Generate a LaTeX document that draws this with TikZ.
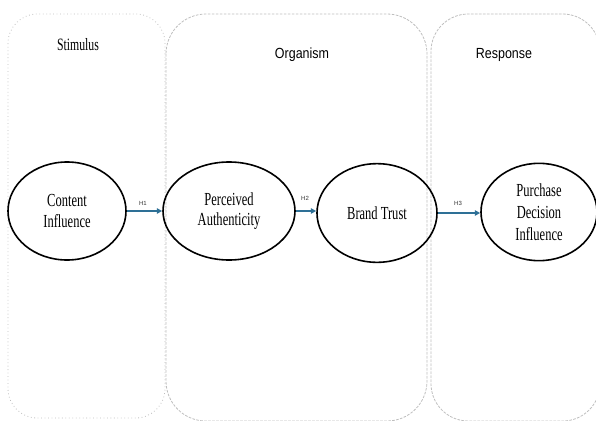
\documentclass[tikz,border=0pt]{standalone}
\usepackage{fontspec}
\usetikzlibrary{shapes.geometric,arrows.meta}
\newfontfamily\narrowserif[FakeStretch=0.68]{Liberation Serif}
\newfontfamily\narrowsans[FakeStretch=0.85]{Liberation Sans}
\newfontfamily\plainsans{Liberation Sans}
\definecolor{boxgray}{RGB}{190,190,190}
\definecolor{linkblue}{RGB}{46,112,150}

\tikzset{every picture/.style={line width=0.75pt}}
\tikzset{
	construct/.style={ellipse, draw=black, line width=1.2pt, inner sep=0pt, align=center,
		font=\narrowserif\fontsize{13.8}{15.5}\selectfont},
	stagebox/.style={draw=boxgray, line width=0.6pt},
	stagetitle/.style={font=\narrowsans\fontsize{11}{13}\selectfont},
	hlink/.style={draw=linkblue, line width=1.1pt, -{Triangle[length=4pt,width=4pt]}},
	hlabel/.style={font=\plainsans\fontsize{4.5}{5}\selectfont, text=black!80}}

\begin{document}
\begin{tikzpicture}[x=0.75pt,y=0.75pt,yscale=-1,xscale=1]
	\useasboundingbox (0,0) rectangle (596,421);

	%Shape: Rounded Rect [id:stimulus]
	\draw [stagebox, dotted, rounded corners=22pt] (8,14) rectangle (165,418) ;
	%Shape: Rounded Rect [id:organism]
	\draw [stagebox, dashed, dash pattern=on 2pt off 1pt, rounded corners=30pt] (166,14) rectangle (427,421) ;
	%Shape: Rounded Rect [id:response]
	\draw [stagebox, dashed, dash pattern=on 2pt off 1pt, rounded corners=28pt] (431,14) rectangle (600,421) ;

	% Text Node
	\node [stagetitle, font=\narrowserif\fontsize{13}{14}\selectfont] (stimtitle) at (78,45) {Stimulus};
	% Text Node
	\node [stagetitle] (orgtitle) at (302,55) {Organism};
	% Text Node
	\node [stagetitle] (resptitle) at (504,55) {Response};

	%Shape: Ellipse [id:content]
	\node [construct, minimum width=88.5pt, minimum height=73.5pt] (content) at (67,211) {Content\\Influence};
	%Shape: Ellipse [id:authenticity]
	\node [construct, minimum width=99pt, minimum height=73.5pt] (authenticity) at (229,211) {Perceived\\Authenticity};
	%Shape: Ellipse [id:trust]
	\node [construct, minimum width=90pt, minimum height=74pt] (trust) at (377,213) {Brand Trust};
	%Shape: Ellipse [id:purchase]
	\node [construct, minimum width=87pt, minimum height=73pt, font=\narrowserif\fontsize{13.8}{16.5}\selectfont] (purchase) at (539,212) {Purchase\\Decision\\Influence};

	%Straight Lines [id:h1]
	\draw [hlink] (content.east) -- (authenticity.west) ;
	%Straight Lines [id:h2]
	\draw [hlink] (authenticity.east) -- (trust.west |- authenticity.east) ;
	%Straight Lines [id:h3]
	\draw [hlink] (trust.east) -- (purchase.west |- trust.east) ;

	% Text Node
	\node [hlabel] (h1) at (143,203) {H1};
	% Text Node
	\node [hlabel] (h2) at (305,198) {H2};
	% Text Node
	\node [hlabel] (h3) at (458,203) {H3};

\end{tikzpicture}
\end{document}
